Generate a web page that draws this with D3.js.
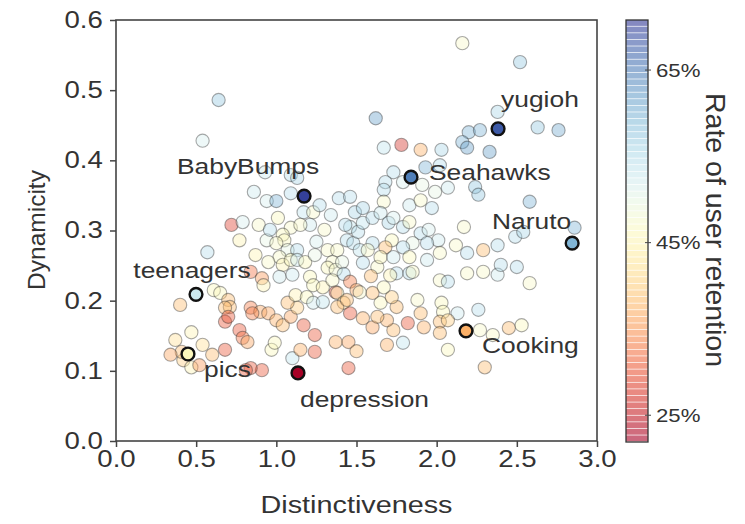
<!DOCTYPE html>
<html>
<head>
<meta charset="utf-8">
<script src="https://cdn.jsdelivr.net/npm/d3@7"></script>
<style>
  body { margin: 0; background: #fff; }
  svg { display: block; font-family: "Liberation Sans", Arial, sans-serif; }
</style>
</head>
<body>
<svg id="chart" width="745" height="524"></svg>
<script>
"use strict";

// ─── Data ────────────────────────────────────────────────────────────────────
const distinctiveness = [
  0.64, 0.54, 0.86, 0.94, 1.00, 1.09, 1.09, 1.13, 0.93, 1.17, 1.23, 1.21, 0.72, 0.79, 1.01, 1.09,
  0.94, 1.04, 1.05, 1.00, 0.57, 1.07, 1.13, 1.02, 1.04, 1.09, 1.13, 1.25, 1.32, 1.38, 1.35, 1.32,
  1.37, 1.41, 1.42, 1.44, 1.48, 1.52, 1.46, 1.51, 1.54, 1.39, 1.46, 1.49, 1.54, 0.84, 0.91, 0.92,
  1.02, 1.10, 1.21, 1.23, 1.29, 1.37, 1.46, 1.50, 0.40, 0.61, 0.65, 0.70, 0.71, 0.68, 0.68, 0.70,
  0.84, 0.90, 0.85, 0.77, 0.79, 0.82, 0.47, 0.54, 0.60, 0.42, 0.47, 0.52, 0.68, 0.91, 0.84, 0.95,
  1.00, 1.04, 1.09, 1.13, 1.07, 1.12, 1.19, 1.17, 0.97, 0.99, 1.10, 1.15, 1.24, 1.24, 1.37, 1.45,
  1.50, 1.45, 1.23, 1.29, 1.38, 1.42, 1.46, 1.54, 1.38, 2.02, 2.07, 2.19, 2.29, 2.38, 2.40, 2.50,
  2.58, 1.88, 2.03, 2.04, 2.13, 2.26, 1.90, 2.02, 2.07, 2.02, 2.27, 2.35, 2.45, 2.53, 2.07, 2.30,
  1.79, 1.69, 1.73, 1.69, 1.60, 1.63, 1.82, 1.92, 1.65, 1.75, 1.72, 1.67, 1.60, 1.54, 1.63, 1.75,
  1.83, 1.62, 2.38, 2.63, 2.76, 2.20, 2.27, 2.16, 2.19, 2.33, 1.67, 1.78, 1.90, 2.03, 1.93, 2.02,
  2.24, 2.26, 2.58, 1.73, 1.68, 1.67, 1.79, 1.91, 1.99, 2.07, 1.67, 1.83, 1.90, 1.97, 2.17, 2.38,
  2.49, 2.54, 2.86, 2.29, 2.19, 2.16, 2.52, 1.60, 1.65, 1.70, 1.73, 1.79, 1.83, 1.90, 1.95, 2.01,
  1.94, 1.85, 1.79, 1.72, 1.68, 1.60, 1.57, 1.65, 1.73, 1.83, 1.94, 2.02, 1.71, 1.85, 1.59, 1.35,
  1.52, 1.44, 2.12, 0.81, 0.37, 0.41, 0.34, 1.15, 1.27, 1.34, 1.43, 1.30, 1.18, 1.24, 0.95, 0.87,
  0.77, 0.89, 0.96
];
const dynamicity = [
  0.486, 0.428, 0.355, 0.342, 0.342, 0.353, 0.379, 0.375, 0.383, 0.326, 0.326, 0.308, 0.308, 0.312, 0.318, 0.304,
  0.286, 0.294, 0.286, 0.282, 0.269, 0.272, 0.272, 0.262, 0.251, 0.258, 0.258, 0.284, 0.272, 0.272, 0.255, 0.247,
  0.244, 0.255, 0.238, 0.286, 0.282, 0.272, 0.305, 0.298, 0.311, 0.346, 0.348, 0.326, 0.332, 0.241, 0.232, 0.222,
  0.234, 0.237, 0.234, 0.222, 0.219, 0.212, 0.227, 0.215, 0.194, 0.215, 0.211, 0.201, 0.191, 0.190, 0.170, 0.177,
  0.190, 0.184, 0.182, 0.158, 0.147, 0.141, 0.155, 0.137, 0.123, 0.115, 0.105, 0.108, 0.130, 0.101, 0.104, 0.182,
  0.172, 0.165, 0.177, 0.190, 0.197, 0.208, 0.205, 0.165, 0.130, 0.140, 0.118, 0.130, 0.151, 0.127, 0.141, 0.141,
  0.128, 0.104, 0.197, 0.198, 0.211, 0.197, 0.182, 0.175, 0.191, 0.229, 0.227, 0.239, 0.241, 0.237, 0.251, 0.248,
  0.225, 0.201, 0.197, 0.184, 0.182, 0.187, 0.182, 0.170, 0.172, 0.154, 0.158, 0.151, 0.161, 0.165, 0.130, 0.105,
  0.140, 0.137, 0.158, 0.172, 0.162, 0.177, 0.168, 0.162, 0.197, 0.191, 0.205, 0.219, 0.211, 0.254, 0.248, 0.239,
  0.239, 0.460, 0.469, 0.447, 0.443, 0.440, 0.443, 0.426, 0.418, 0.412, 0.418, 0.422, 0.415, 0.415, 0.390, 0.393,
  0.362, 0.351, 0.341, 0.383, 0.369, 0.358, 0.369, 0.365, 0.355, 0.361, 0.341, 0.336, 0.343, 0.332, 0.305, 0.279,
  0.291, 0.298, 0.304, 0.272, 0.268, 0.567, 0.540, 0.318, 0.325, 0.311, 0.318, 0.305, 0.312, 0.296, 0.301, 0.286,
  0.282, 0.282, 0.276, 0.286, 0.276, 0.282, 0.272, 0.262, 0.262, 0.262, 0.258, 0.268, 0.236, 0.241, 0.235, 0.229,
  0.212, 0.201, 0.279, 0.101, 0.144, 0.127, 0.123, 0.308, 0.336, 0.322, 0.308, 0.301, 0.255, 0.265, 0.255, 0.265,
  0.286, 0.308, 0.301
];
const retention = [
  0.58, 0.52, 0.53, 0.52, 0.60, 0.55, 0.55, 0.56, 0.53, 0.54, 0.47, 0.53, 0.28, 0.52, 0.46, 0.47,
  0.50, 0.46, 0.46, 0.47, 0.55, 0.50, 0.55, 0.47, 0.45, 0.46, 0.53, 0.52, 0.47, 0.47, 0.47, 0.46,
  0.48, 0.50, 0.55, 0.55, 0.55, 0.54, 0.54, 0.55, 0.54, 0.55, 0.55, 0.56, 0.56, 0.32, 0.35, 0.45,
  0.53, 0.53, 0.46, 0.46, 0.45, 0.30, 0.33, 0.36, 0.38, 0.46, 0.46, 0.38, 0.38, 0.38, 0.30, 0.30,
  0.33, 0.36, 0.33, 0.30, 0.32, 0.36, 0.45, 0.42, 0.38, 0.40, 0.45, 0.35, 0.30, 0.30, 0.30, 0.36,
  0.37, 0.38, 0.36, 0.40, 0.38, 0.45, 0.46, 0.30, 0.46, 0.46, 0.54, 0.37, 0.30, 0.30, 0.37, 0.36,
  0.38, 0.30, 0.53, 0.54, 0.45, 0.40, 0.30, 0.37, 0.38, 0.47, 0.55, 0.47, 0.47, 0.53, 0.55, 0.55,
  0.47, 0.47, 0.46, 0.46, 0.53, 0.55, 0.38, 0.38, 0.40, 0.38, 0.47, 0.47, 0.38, 0.46, 0.46, 0.38,
  0.54, 0.37, 0.38, 0.37, 0.36, 0.38, 0.30, 0.37, 0.46, 0.38, 0.40, 0.46, 0.38, 0.55, 0.47, 0.55,
  0.55, 0.62, 0.56, 0.58, 0.61, 0.60, 0.60, 0.60, 0.62, 0.62, 0.54, 0.27, 0.37, 0.56, 0.60, 0.55,
  0.58, 0.58, 0.60, 0.55, 0.55, 0.55, 0.52, 0.50, 0.50, 0.53, 0.47, 0.53, 0.47, 0.55, 0.47, 0.55,
  0.55, 0.56, 0.60, 0.38, 0.55, 0.47, 0.58, 0.55, 0.53, 0.56, 0.52, 0.55, 0.47, 0.55, 0.52, 0.53,
  0.55, 0.50, 0.55, 0.46, 0.38, 0.55, 0.47, 0.46, 0.53, 0.46, 0.53, 0.47, 0.45, 0.47, 0.38, 0.47,
  0.47, 0.38, 0.47, 0.30, 0.42, 0.38, 0.36, 0.47, 0.55, 0.53, 0.55, 0.47, 0.46, 0.50, 0.47, 0.45,
  0.45, 0.47, 0.55
];

// highlighted communities
const hlNames = ["yugioh", "Seahawks", "BabyBumps", "Naruto", "teenagers", "pics", "Cooking", "depression"];
const hlX     = [2.383, 1.840, 1.173, 2.845, 0.499, 0.449, 2.183, 1.135];
const hlY     = [0.445, 0.376, 0.349, 0.282, 0.209, 0.124, 0.157, 0.097];
const hlRet   = [0.68, 0.65, 0.70, 0.60, 0.53, 0.46, 0.37, 0.22];

const xTicks  = [0, 0.5, 1.0, 1.5, 2.0, 2.5, 3.0];
const yTicks  = [0, 0.1, 0.2, 0.3, 0.4, 0.5, 0.6];
const cbTicks = [0.25, 0.45, 0.65];
const retentionRange = [0.219, 0.708];

// label placement relative to the highlighted dot (px)
const labelPos = {
  yugioh:     { dx: 3,   dy: -29, anchor: "start" },
  Seahawks:   { dx: 18,  dy: -5,  anchor: "start" },
  BabyBumps:  { dx: -56, dy: -30, anchor: "middle" },
  Naruto:     { dx: -1,  dy: -22, anchor: "end" },
  teenagers:  { dx: -4,  dy: -24, anchor: "middle" },
  pics:       { dx: 16,  dy: 15,  anchor: "start" },
  Cooking:    { dx: 16,  dy: 14,  anchor: "start" },
  depression: { dx: 2,   dy: 26,  anchor: "start" },
};

// ─── Layout ──────────────────────────────────────────────────────────────────
const TXT = "#333";
const AX = "#444";
const SX = 1.2; // horizontal text widening seen in the reference
const plot = { left: 116, right: 597, top: 20, bottom: 441 };
const cb = { x: 626, w: 22, top: 20, bottom: 442 };

const svg = d3.select("#chart");

const x = d3.scaleLinear().domain([0, 3]).range([plot.left, plot.right]);
const y = d3.scaleLinear().domain([0, 0.6]).range([plot.bottom, plot.top]);
const color = d3.scaleSequential(d3.interpolateRdYlBu).domain(retentionRange);
const cbY = d3.scaleLinear().domain(retentionRange).range([cb.bottom, cb.top]);

// ─── Axes ────────────────────────────────────────────────────────────────────
const xAxis = svg.append("g")
  .attr("transform", `translate(0,${plot.bottom})`)
  .call(d3.axisBottom(x).tickValues(xTicks).tickFormat(d3.format(".1f")).tickSize(6).tickPadding(4));
const yAxis = svg.append("g")
  .attr("transform", `translate(${plot.left},0)`)
  .call(d3.axisLeft(y).tickValues(yTicks).tickFormat(d3.format(".1f")).tickSize(6).tickPadding(5));

[xAxis, yAxis].forEach((g) => {
  g.select(".domain").remove();
  g.selectAll(".tick line").attr("stroke", AX).attr("stroke-width", 1.5);
  g.selectAll(".tick text")
    .attr("fill", TXT)
    .style("font-size", "23px")
    .attr("transform", `scale(${SX},1)`);
});

// frame
svg.append("rect")
  .attr("x", plot.left).attr("y", plot.top)
  .attr("width", plot.right - plot.left).attr("height", plot.bottom - plot.top)
  .attr("fill", "none").attr("stroke", AX).attr("stroke-width", 1.6);

// axis titles
svg.append("text")
  .attr("transform", `translate(${(plot.left + plot.right) / 2},505) scale(${SX},1)`)
  .attr("text-anchor", "middle").attr("dy", "0.35em")
  .attr("fill", TXT).style("font-size", "24px")
  .text("Distinctiveness");
svg.append("text")
  .attr("transform", "translate(36,230) rotate(-90)")
  .attr("text-anchor", "middle").attr("dy", "0.35em")
  .attr("fill", TXT).style("font-size", "24.5px")
  .text("Dynamicity");

// ─── Points ──────────────────────────────────────────────────────────────────
const points = d3.range(distinctiveness.length).map((i) => ({
  x: distinctiveness[i], y: dynamicity[i], r: retention[i],
}));

svg.append("g")
  .selectAll("circle")
  .data(points)
  .join("circle")
  .attr("cx", (d) => x(d.x))
  .attr("cy", (d) => y(d.y))
  .attr("r", 6.6)
  .attr("fill", (d) => color(d.r))
  .attr("fill-opacity", 0.42)
  .attr("stroke", "#333")
  .attr("stroke-opacity", 0.42)
  .attr("stroke-width", 1.1);

const highlights = hlNames.map((name, i) => ({ name, x: hlX[i], y: hlY[i], r: hlRet[i] }));

// labels
svg.append("g")
  .selectAll("text")
  .data(highlights)
  .join("text")
  .attr("transform", (d) => {
    const p = labelPos[d.name];
    return `translate(${x(d.x) + p.dx},${y(d.y) + p.dy}) scale(${SX},1)`;
  })
  .attr("text-anchor", (d) => labelPos[d.name].anchor)
  .attr("dy", "0.35em")
  .attr("fill", TXT)
  .style("font-size", "22px")
  .text((d) => d.name);

svg.append("g")
  .selectAll("circle")
  .data(highlights)
  .join("circle")
  .attr("cx", (d) => x(d.x))
  .attr("cy", (d) => y(d.y))
  .attr("r", 6.4)
  .attr("fill", (d) => color(d.r))
  .attr("stroke", "#111")
  .attr("stroke-width", 2.4);

// ─── Colorbar ────────────────────────────────────────────────────────────────
const nBands = 64;
const step = (retentionRange[1] - retentionRange[0]) / nBands;
const bands = d3.range(nBands).map((k) => retentionRange[0] + k * step);

svg.append("g")
  .selectAll("rect")
  .data(bands)
  .join("rect")
  .attr("x", cb.x)
  .attr("y", (v) => cbY(v + step))
  .attr("width", cb.w)
  .attr("height", (v) => Math.max(0, cbY(v) - cbY(v + step) - 0.7))
  .attr("fill", (v) => color(v + step / 2))
  .attr("fill-opacity", 0.6);

svg.append("rect")
  .attr("x", cb.x).attr("y", cb.top)
  .attr("width", cb.w).attr("height", cb.bottom - cb.top)
  .attr("fill", "none").attr("stroke", "#333").attr("stroke-width", 1.3);

const cbAxis = svg.append("g");
cbAxis.selectAll("line")
  .data(cbTicks)
  .join("line")
  .attr("x1", cb.x + cb.w - 3).attr("x2", cb.x + cb.w + 3)
  .attr("y1", (v) => cbY(v)).attr("y2", (v) => cbY(v))
  .attr("stroke", AX).attr("stroke-width", 1);
cbAxis.selectAll("text")
  .data(cbTicks)
  .join("text")
  .attr("transform", (v) => `translate(${cb.x + cb.w + 8},${cbY(v)}) scale(${SX},1)`)
  .attr("dy", "0.35em")
  .attr("fill", TXT)
  .style("font-size", "18.5px")
  .text((v) => d3.format(".0%")(v));

svg.append("text")
  .attr("transform", "translate(716,230) rotate(90)")
  .attr("text-anchor", "middle").attr("dy", "0.35em")
  .attr("fill", TXT).style("font-size", "28.5px")
  .text("Rate of user retention");
</script>
</body>
</html>
